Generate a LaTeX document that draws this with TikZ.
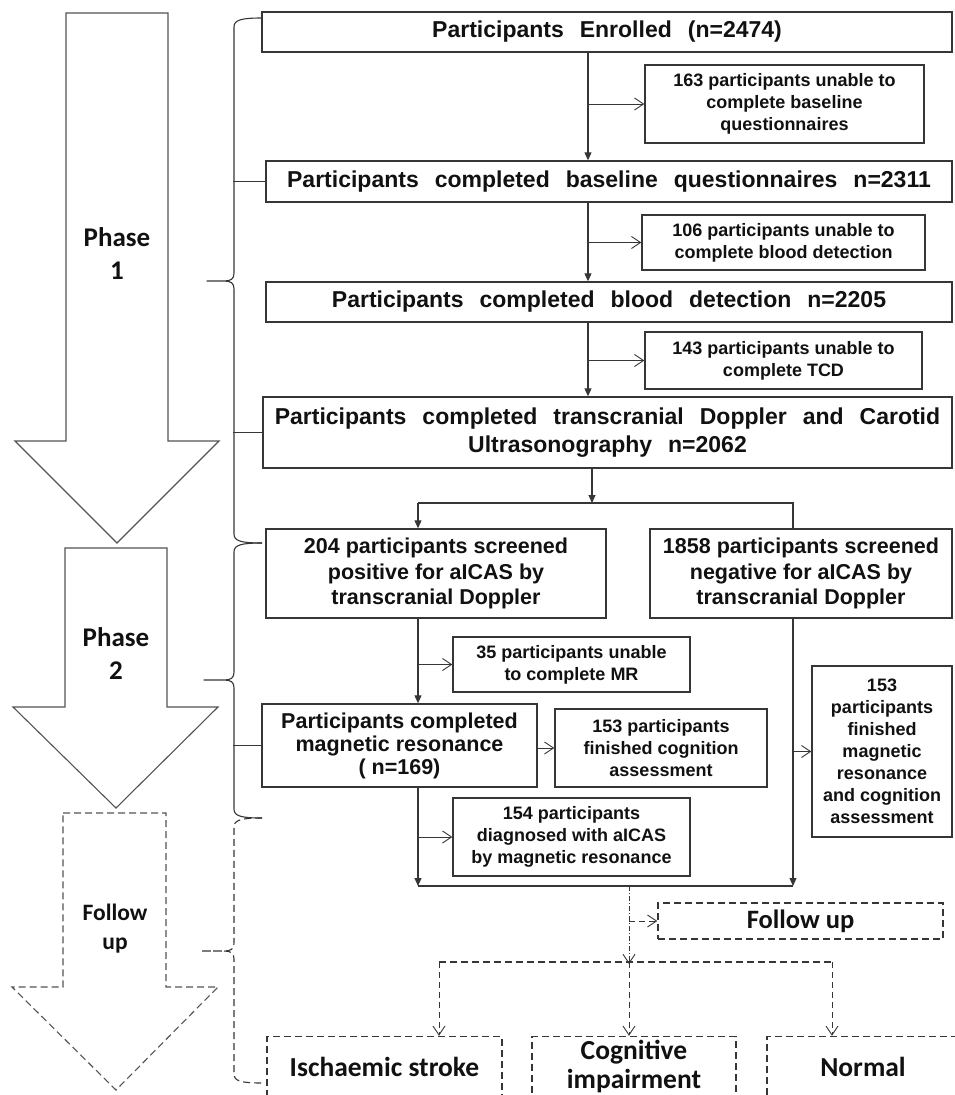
\documentclass[tikz,border=0pt]{standalone}
\usepackage{fontspec}
\setmainfont{Liberation Sans}
\newfontfamily\calibfont{Carlito}
\usetikzlibrary{arrows,arrows.meta,positioning}
\definecolor{linegray}{HTML}{363636}
\definecolor{inkblack}{HTML}{111111}
\newcommand{\widesp}{\spaceskip=16pt plus 3pt minus 3pt\relax}

% curly bracket beside the phase arrows: [style] top, tip y, bottom, tip x
\newcommand{\phasebrace}[5][]{%
\draw[braceline,#1] (262,#2) .. controls (241,#2) and (234,#2+2) .. (234,#2+9)
  -- (234,#3-8) .. controls (234,#3-2) and (231,#3) .. (224,#3) -- (#5,#3)
  -- (224,#3) .. controls (231,#3) and (234,#3+2) .. (234,#3+8)
  -- (234,#4-9) .. controls (234,#4-2) and (241,#4) .. (262,#4);}

\begin{document}
\begin{tikzpicture}[x=1pt,y=-1pt]
\tikzstyle{box}=[draw=linegray,line width=1.4pt,inner sep=0pt,align=center,
text=inkblack]
\tikzstyle{bigbox}=[box,font=\bfseries\fontsize{23}{28}\selectfont\widesp]
\tikzstyle{midbox}=[box,font=\bfseries\fontsize{21.5}{25.5}\selectfont]
\tikzstyle{smallbox}=[box,font=\bfseries\fontsize{18}{22}\selectfont]
\tikzstyle{endbox}=[box,dash pattern=on 7pt off 4pt,
font=\calibfont\bfseries\fontsize{27.5}{29.5}\selectfont]
\tikzstyle{phaselabel}=[align=center,text=inkblack,
font=\calibfont\bfseries\fontsize{27}{33}\selectfont]
\tikzstyle{phasearrow}=[draw=linegray!85,line width=1.1pt,line join=miter]
\tikzstyle{braceline}=[draw=linegray,line width=1.1pt,line join=round]
\tikzstyle{flow}=[draw=linegray,line width=1.1pt,-{Triangle[length=8pt,width=7pt]}]
\tikzstyle{side}=[draw=linegray,line width=0.9pt,-{Straight Barb[length=9pt,width=12pt]}]
\tikzstyle{dside}=[side,dash pattern=on 6pt off 4pt]

\path[use as bounding box,fill=white] (0,0) rectangle (954,1095);

% phase arrows
\draw[phasearrow] (66,13) -- (168,13) -- (168,441) -- (219,441) -- (117,543)
  -- (15,441) -- (66,441) -- cycle;
\draw[phasearrow] (65,548) -- (167,548) -- (167,707) -- (218,707) -- (116,808)
  -- (13,707) -- (65,707) -- cycle;
\draw[phasearrow,dash pattern=on 7pt off 4pt] (63,813) -- (166,813) -- (166,987)
  -- (218,987) -- (116,1090) -- (12,987) -- (63,987) -- cycle;
\node[phaselabel] (p1) at (117,254) {Phase\\1};
\node[phaselabel] (p2) at (116,654) {Phase\\2};
\node[phaselabel,font=\calibfont\bfseries\fontsize{23.5}{29}\selectfont] (p3) at (115,929) {Follow\\up};

% phase 1
\node[bigbox,minimum width=690,minimum height=40] (1) at (607,32) {Participants Enrolled (n=2474)};
\node[bigbox,minimum width=686,minimum height=41] (2) at (609,181.5) {Participants completed baseline questionnaires n=2311};
\node[bigbox,minimum width=686,minimum height=40] (3) at (609,302) {Participants completed blood detection n=2205};
\node[bigbox,minimum width=689,minimum height=71] (4) at (607.5,432.5) {Participants completed transcranial Doppler and Carotid\\Ultrasonography n=2062};
\node[smallbox,minimum width=279,minimum height=78] (1e) at (784.5,104) {163 participants unable to\\complete baseline\\questionnaires};
\node[smallbox,minimum width=283,minimum height=55] (2e) at (783.5,242.5) {106 participants unable to\\complete blood detection};
\node[smallbox,minimum width=277,minimum height=57] (3e) at (783.5,360.5) {143 participants unable to\\complete TCD};

% phase 2
\node[midbox,minimum width=340,minimum height=89] (5) at (436,573.5) {204 participants screened\\positive for aICAS by\\transcranial Doppler};
\node[midbox,minimum width=302,minimum height=89] (5n) at (801,573.5) {1858 participants screened\\negative for aICAS by\\transcranial Doppler};
\node[smallbox,minimum width=237,minimum height=55] (4e) at (571.5,664.5) {35 participants unable\\to complete MR};
\node[midbox,minimum width=275,minimum height=83,font=\bfseries\fontsize{21.5}{23}\selectfont] (6) at (399.5,745.5) {Participants completed\\magnetic resonance\\( n=169)};
\node[smallbox,minimum width=212,minimum height=78] (6c) at (661,748) {153 participants\\finished cognition\\assessment};
\node[smallbox,minimum width=237,minimum height=78] (7e) at (571.5,837) {154 participants\\diagnosed with aICAS\\by magnetic resonance};
\node[smallbox,minimum width=140,minimum height=171] (6n) at (882,751.5) {153\\participants\\finished\\magnetic\\resonance\\and cognition\\assessment};

% follow up
\node[endbox,minimum width=285,minimum height=36,font=\calibfont\bfseries\fontsize{26.5}{30}\selectfont] (8) at (800.5,921) {Follow up};
\node[endbox,minimum width=235,minimum height=60] (9a) at (384.5,1066.5) {Ischaemic stroke};
\node[endbox,minimum width=204,minimum height=60] (9b) at (634,1066.5) {Cognitive\\impairment};
\node[endbox,minimum width=192,minimum height=60] (9c) at (863,1066.5) {Normal};

% brackets
\phasebrace{18}{281}{543}{207}
\phasebrace{543}{680}{818}{204}
\phasebrace[dash pattern=on 7pt off 4pt]{818}{951}{1083}{201}
\draw[braceline] (2.west) -- ++(-32,0);
\draw[braceline] (4.west) -- ++(-29,0);
\draw[braceline] (6.west) -- ++(-28,0);

% main flow
\coordinate (m) at (588,0);
\draw[flow] (1.south -| m) -- (2.north -| m);
\draw[flow] (2.south -| m) -- (3.north -| m);
\draw[flow] (3.south -| m) -- (4.north -| m);
\draw[side] (1e.west -| m) -- (1e.west);
\draw[side] (2e.west -| m) -- (2e.west);
\draw[side] (3e.west -| m) -- (3e.west);

\coordinate (j) at (592,503);
\coordinate (l) at (418,503);
\coordinate (r) at (793,503);
\draw[flow] (4.south -| j) -- (j);
\draw[draw=linegray,line width=1.1pt] (l) -- (r) -- (r |- 5n.north);
\draw[flow] (l) -- (l |- 5.north);
\draw[flow] (l |- 5.south) -- (l |- 6.north);
\draw[side] (4e.west -| l) -- (4e.west);
\draw[side] (6c.west -| 6.east) -- (6c.west);

\coordinate (lb) at (418,886);
\coordinate (rb) at (793,886);
\draw[flow] (l |- 6.south) -- (lb);
\draw[side] (7e.west -| l) -- (7e.west);
\draw[flow] (r |- 5n.south) -- (rb);
\draw[side] (6n.west -| r) -- (6n.west);
\draw[draw=linegray,line width=1.1pt] (lb) -- (rb);

% follow up branches
\coordinate (fb) at (629,886);
\coordinate (fd) at (629,962);
\coordinate (dl) at (439,962);
\coordinate (dr) at (832,962);
\draw[side,dash pattern=on 5pt off 2pt on 1pt off 2pt] (fb) -- ([yshift=-2]fd);
\draw[dside] (8.west -| fb) -- (8.west);
\draw[draw=linegray,line width=1.1pt,dash pattern=on 7pt off 4pt] (dl) -- (dr);
\draw[dside] (dl) -- (dl |- 9a.north);
\draw[dside] (fd) -- (fd |- 9b.north);
\draw[dside] (dr) -- (dr |- 9c.north);

\end{tikzpicture}
\end{document}
